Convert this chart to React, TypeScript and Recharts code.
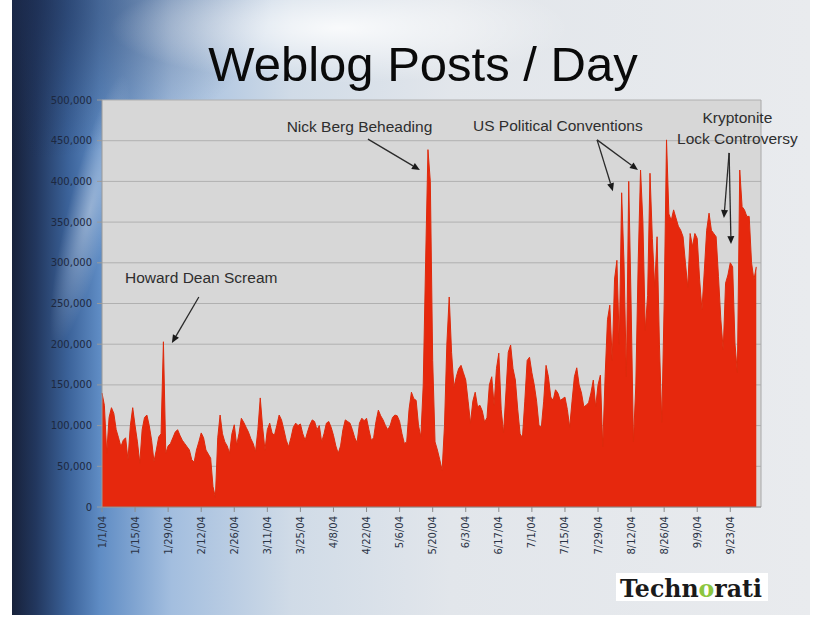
import React from "react";
import {
  AreaChart,
  Area,
  XAxis,
  YAxis,
  CartesianGrid,
  ReferenceLine,
  ReferenceDot,
} from "recharts";

// Daily weblog posts, day 0 = 1/1/04
const postsPerDay = [
  140000, 125000, 66000, 110000, 122000, 115000, 95000, 85000, 74000, 82000,
  85000, 58000, 100000, 122000, 100000, 80000, 54000, 95000, 110000, 113000,
  100000, 82000, 56000, 70000, 86000, 90000, 203000, 66000, 75000, 78000,
  85000, 92000, 95000, 88000, 82000, 78000, 74000, 70000, 58000, 55000,
  70000, 80000, 91000, 85000, 70000, 65000, 60000, 25000, 12000, 85000,
  113000, 90000, 80000, 75000, 66000, 90000, 101000, 76000, 90000, 109000,
  104000, 98000, 92000, 84000, 78000, 68000, 95000, 134000, 98000, 70000,
  95000, 103000, 91000, 88000, 100000, 113000, 107000, 95000, 82000, 74000,
  85000, 98000, 103000, 100000, 102000, 90000, 82000, 92000, 101000, 107000,
  105000, 95000, 100000, 80000, 90000, 103000, 105000, 98000, 88000, 75000,
  66000, 75000, 95000, 107000, 105000, 103000, 95000, 85000, 79000, 103000,
  109000, 106000, 109000, 95000, 82000, 85000, 105000, 119000, 112000, 107000,
  100000, 95000, 100000, 110000, 113000, 112000, 105000, 90000, 78000, 80000,
  120000, 141000, 133000, 131000, 100000, 86000, 150000, 300000, 439000, 400000,
  180000, 80000, 70000, 58000, 45000, 100000, 200000, 258000, 190000, 147000,
  160000, 170000, 174000, 165000, 156000, 130000, 103000, 130000, 141000, 123000,
  125000, 118000, 104000, 110000, 150000, 160000, 125000, 170000, 189000, 120000,
  91000, 140000, 190000, 199000, 170000, 156000, 120000, 90000, 85000, 130000,
  180000, 184000, 165000, 150000, 130000, 100000, 98000, 130000, 174000, 160000,
  135000, 131000, 144000, 140000, 131000, 133000, 135000, 120000, 98000, 130000,
  160000, 171000, 150000, 140000, 123000, 125000, 128000, 140000, 156000, 123000,
  150000, 162000, 74000, 160000, 230000, 248000, 180000, 280000, 303000, 200000,
  386000, 300000, 160000, 400000, 250000, 80000, 150000, 300000, 414000, 350000,
  217000, 260000, 410000, 330000, 270000, 332000, 200000, 104000, 250000, 451000,
  360000, 352000, 365000, 355000, 345000, 340000, 332000, 300000, 270000, 336000,
  320000, 336000, 330000, 280000, 242000, 290000, 340000, 361000, 340000, 336000,
  332000, 283000, 230000, 193000, 275000, 285000, 300000, 295000, 200000, 165000,
  414000, 369000, 365000, 357000, 357000, 300000, 279000, 295000,
];

const xTickDays = [0, 14, 28, 42, 56, 70, 84, 98, 112, 126, 140, 154, 168, 182, 196, 210, 224, 238, 252, 266];
const xTickLabels = [
  "1/1/04", "1/15/04", "1/29/04", "2/12/04", "2/26/04", "3/11/04", "3/25/04",
  "4/8/04", "4/22/04", "5/6/04", "5/20/04", "6/3/04", "6/17/04", "7/1/04",
  "7/15/04", "7/29/04", "8/12/04", "8/26/04", "9/9/04", "9/23/04",
];
const yTicks = [0, 50000, 100000, 150000, 200000, 250000, 300000, 350000, 400000, 450000, 500000];

// Annotations (in data coordinates: day, posts)
const annotationLabels = [
  { text: "Howard Dean Scream", day: 42, posts: 282000 },
  { text: "Nick Berg Beheading", day: 109, posts: 468000 },
  { text: "US Political Conventions", day: 193, posts: 469000 },
  { text: "Kryptonite", day: 269, posts: 478000 },
  { text: "Lock Controversy", day: 269, posts: 453000 },
];
const annotationArrows = [
  { from: { day: 41, posts: 258000 }, to: { day: 29.6, posts: 201500 } },
  { from: { day: 112.6, posts: 452000 }, to: { day: 134.6, posts: 414000 } },
  { from: { day: 209.6, posts: 451000 }, to: { day: 216.3, posts: 388000 } },
  { from: { day: 209.6, posts: 451000 }, to: { day: 226.9, posts: 414000 } },
  { from: { day: 265.5, posts: 435000 }, to: { day: 263.3, posts: 355000 } },
  { from: { day: 265.5, posts: 435000 }, to: { day: 266.3, posts: 323000 } },
];

const data = postsPerDay.map((v, i) => ({ day: i, posts: v }));

const ArrowShape = (props: any) => {
  const { x1, y1, x2, y2 } = props;
  const dx = x2 - x1;
  const dy = y2 - y1;
  const len = Math.sqrt(dx * dx + dy * dy) || 1;
  const ux = dx / len;
  const uy = dy / len;
  const hl = 8;
  const hw = 3.5;
  const bx = x2 - ux * hl;
  const by = y2 - uy * hl;
  const pts = `${x2},${y2} ${bx - uy * hw},${by + ux * hw} ${bx + uy * hw},${by - ux * hw}`;
  return (
    <g>
      <line x1={x1} y1={y1} x2={bx} y2={by} stroke="#2a2a2a" strokeWidth={1.3} />
      <polygon points={pts} fill="#1a1a1a" />
    </g>
  );
};

const XTick = (props: any) => {
  const { x, y, payload } = props;
  const idx = xTickDays.indexOf(payload.value);
  return (
    <g transform={`translate(${x},${y})`}>
      <text
        transform="rotate(-90)"
        x={0}
        y={0}
        dy="0.35em"
        textAnchor="end"
        fontFamily="DejaVu Sans, Verdana, sans-serif"
        fontSize={10}
        fill="#2b3446"
      >
        {idx >= 0 ? xTickLabels[idx] : ""}
      </text>
    </g>
  );
};

export default function App() {
  return (
    <div style={{ position: "absolute", left: 0, top: 0, width: 821, height: 620, overflow: "hidden" }}>
      <svg width={821} height={620} style={{ position: "absolute", left: 0, top: 0 }}>
        <defs>
          <linearGradient id="bgH" x1="0" y1="0" x2="1" y2="0">
            <stop offset="0" stopColor="#17213a" />
            <stop offset="0.03" stopColor="#22375e" />
            <stop offset="0.07" stopColor="#3b6299" />
            <stop offset="0.11" stopColor="#5f8cc4" />
            <stop offset="0.2" stopColor="#a3bedf" />
            <stop offset="0.35" stopColor="#d0dbe7" />
            <stop offset="0.55" stopColor="#e2e6eb" />
            <stop offset="1" stopColor="#e9ebee" />
          </linearGradient>
          <radialGradient id="glow" cx="0.5" cy="0.5" r="0.5">
            <stop offset="0" stopColor="#ffffff" stopOpacity="0.85" />
            <stop offset="1" stopColor="#ffffff" stopOpacity="0" />
          </radialGradient>
          <radialGradient id="cornerShade" cx="0" cy="0" r="1">
            <stop offset="0" stopColor="#1c2c50" stopOpacity="0.6" />
            <stop offset="1" stopColor="#1c2c50" stopOpacity="0" />
          </radialGradient>
        </defs>
        <rect x={0} y={0} width={821} height={620} fill="#ffffff" />
        <rect x={12} y={0} width={798} height={615} fill="url(#bgH)" />
        <rect x={12} y={0} width={260} height={160} fill="url(#cornerShade)" />
        <ellipse cx={340} cy={28} rx={230} ry={55} fill="url(#glow)" />
        <ellipse cx={90} cy={210} rx={22} ry={140} fill="url(#glow)" opacity={0.45} transform="rotate(14 90 210)" />
        <text
          x={423}
          y={81}
          textAnchor="middle"
          fontFamily="Liberation Sans, Arial, sans-serif"
          fontSize={49}
          fill="#0a0a0a"
        >
          Weblog Posts / Day
        </text>
        <rect x={616} y={573} width={152} height={28} fill="#ffffff" />
        <text
          x={620}
          y={597}
          fontFamily="DejaVu Serif, serif"
          fontWeight="bold"
          fontSize={24}
          fill="#1a1a1a"
          textLength={142}
          lengthAdjust="spacingAndGlyphs"
        >
          Techn<tspan fill="#8cc63f">o</tspan>rati
        </text>
      </svg>
      <div style={{ position: "absolute", left: 0, top: 0 }}>
        <AreaChart
          width={821}
          height={620}
          data={data}
          margin={{ top: 100, right: 60, bottom: 53, left: 42 }}
        >
          <CartesianGrid vertical={false} fill="#d7d7d7" stroke="#b0b0b0" strokeWidth={1} />
          <XAxis
            dataKey="day"
            type="number"
            domain={[0, 279]}
            ticks={xTickDays}
            interval={0}
            height={60}
            tick={<XTick />}
            tickSize={5}
            tickMargin={4}
            stroke="#8c8c8c"
            axisLine={{ stroke: "#8c8c8c" }}
            tickLine={{ stroke: "#8c8c8c" }}
          />
          <YAxis
            type="number"
            domain={[0, 500000]}
            ticks={yTicks}
            interval={0}
            width={60}
            tickSize={5}
            tickMargin={5}
            tickFormatter={(v: number) => v.toLocaleString("en-US")}
            tick={{ fontFamily: "DejaVu Sans, Verdana, sans-serif", fontSize: 10, fill: "#1d2840" }}
            axisLine={{ stroke: "#9a9a9a" }}
            tickLine={{ stroke: "#9a9a9a" }}
          />
          <ReferenceLine x={279} stroke="#a8a8a8" ifOverflow="visible" />
          <Area
            type="linear"
            dataKey="posts"
            stroke="#de2a0c"
            strokeWidth={1}
            fill="#e6280d"
            fillOpacity={1}
            isAnimationActive={false}
            dot={false}
            activeDot={false}
          />
          {annotationArrows.map((a, i) => (
            <ReferenceLine
              key={`arr-${i}`}
              segment={[
                { x: a.from.day, y: a.from.posts },
                { x: a.to.day, y: a.to.posts },
              ]}
              ifOverflow="visible"
              shape={ArrowShape}
            />
          ))}
          {annotationLabels.map((l, i) => (
            <ReferenceDot
              key={`lab-${i}`}
              x={l.day}
              y={l.posts}
              r={0}
              fill="none"
              stroke="none"
              ifOverflow="visible"
              label={{
                value: l.text,
                position: "center",
                fill: "#2e2e2e",
                fontSize: 15.5,
                fontFamily: "Liberation Sans, Arial, sans-serif",
              }}
            />
          ))}
        </AreaChart>
      </div>
    </div>
  );
}
